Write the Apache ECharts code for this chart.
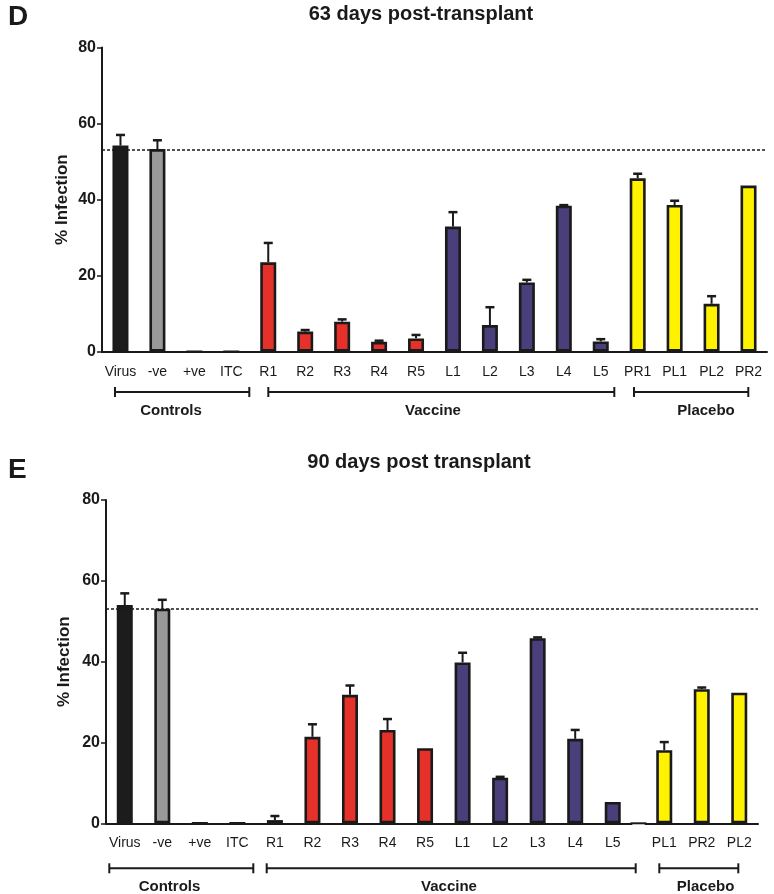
<!DOCTYPE html>
<html><head><meta charset="utf-8">
<script src="https://cdn.jsdelivr.net/npm/echarts@6/dist/echarts.min.js"></script>
<style>html,body{margin:0;padding:0;background:#fff}#c{width:774px;height:894px}</style>
</head><body><div id="c"></div>
<script>
// ---------- DATA ----------
const yTicks = [0, 20, 40, 60, 80];
const refLine = 53;
const groupNames = ['Controls', 'Vaccine', 'Placebo'];

const catsD = ['Virus','-ve','+ve','ITC','R1','R2','R3','R4','R5','L1','L2','L3','L4','L5','PR1','PL1','PL2','PR2'];
const valsD = [54.2, 53.3, 0, 0, 23.5, 5.3, 7.9, 2.6, 3.5, 32.9, 7.0, 18.2, 38.4, 2.7, 45.6, 38.6, 12.6, 43.7];
const errD  = [2.8, 2.3, 0, 0, 5.1, 0.4, 0.6, 0.3, 0.9, 3.8, 4.7, 0.7, 0.15, 0.6, 1.2, 1.1, 2.0, 0];

const catsE1 = ['Virus','-ve','+ve','ITC','R1','R2','R3','R4','R5','L1','L2','L3','L4','L5'];
const valsE1 = [54.0, 53.1, 0, 0, 0.8, 21.4, 31.8, 23.1, 18.6, 39.8, 11.3, 45.8, 20.9, 5.3];
const errE1  = [2.9, 2.2, 0, 0, 1.0, 3.1, 2.3, 2.7, 0, 2.4, 0.2, 0.2, 2.2, 0];
const catsE2 = ['PL1','PR2','PL2'];
const valsE2 = [18.1, 33.2, 32.3];
const errE2  = [2.0, 0.4, 0];

// ---------- STYLE / LAYOUT ----------
const INK = '#1a1a1a';
const FONT = '"Liberation Sans", Arial, sans-serif';
function colorOf(name) {
  if (name === 'Virus') return '#1c1c1c';
  if (name === '-ve' || name === '+ve' || name === 'ITC') return '#999999';
  if (name[0] === 'R') return '#e5312a';
  if (name[0] === 'L') return '#4b3f7b';
  return '#fff200';
}
const gD  = {left: 102, top: 47.5, width: 665, height: 304.2};
const gE1 = {left: 106, top: 500, width: 525.5, height: 323.3};
const gE2 = {left: 645.5, top: 500, width: 112.5, height: 323.3};
const bracketsD = {y: 392, labelY: 411, spans: [[115, 249.3], [268.3, 614.3], [634, 748.3]], labelX: [171, 433, 706]};
const bracketsE = {y: 868.3, labelY: 886.5, spans: [[109.3, 253.3], [266.7, 635.7], [659.3, 738.3]], labelX: [169.5, 449, 705.6]};

function xAxis(cats, gridIndex) {
  return {
    type: 'category', data: cats, gridIndex,
    axisLine: {lineStyle: {color: INK, width: 2}},
    axisTick: {alignWithLabel: true, length: 5, lineStyle: {color: INK, width: 1.5}},
    axisLabel: {color: INK, fontSize: 14, fontFamily: FONT, margin: 13, interval: 0}
  };
}
function yAxis(gridIndex, show, nameGap) {
  return {
    type: 'value', gridIndex, min: yTicks[0], max: yTicks[yTicks.length - 1], interval: yTicks[1] - yTicks[0],
    show,
    name: show ? '% Infection' : '', nameLocation: 'middle', nameGap, nameRotate: 90, nameMoveOverlap: false,
    nameTextStyle: {color: INK, fontSize: 17, fontWeight: 'bold', fontFamily: FONT},
    axisLine: {show: true, lineStyle: {color: INK, width: 2}},
    axisTick: {show: true, length: 5, lineStyle: {color: INK, width: 1.5}},
    axisLabel: {color: INK, fontSize: 16, fontWeight: 'bold', fontFamily: FONT, margin: 6},
    splitLine: {show: false}
  };
}
const dashStyle = {color: '#1a1a1a', width: 1.5, type: [3, 2]};
function barSeries(cats, vals, xi, yi) {
  return {
    type: 'bar', xAxisIndex: xi, yAxisIndex: yi, barWidth: 16,
    data: vals.map((v, i) => ({value: v, itemStyle: {color: colorOf(cats[i])}})),
    itemStyle: {borderColor: INK, borderWidth: 2.6},
    silent: true, z: 3,
    markLine: {silent: true, symbol: 'none', label: {show: false}, lineStyle: dashStyle, data: [{yAxis: refLine}]}
  };
}
function errSeries(cats, vals, errs, xi, yi) {
  return {
    type: 'custom', xAxisIndex: xi, yAxisIndex: yi, silent: true, z: 2,
    data: cats.map((c, i) => [c, vals[i], errs[i]]),
    renderItem: function (params, api) {
      const e = api.value(2);
      if (!e) return null;
      const x = api.value(0), v = api.value(1);
      const p0 = api.coord([x, v]);
      const p1 = api.coord([x, v + e]);
      const st = {stroke: INK, lineWidth: 2};
      return {type: 'group', children: [
        {type: 'line', shape: {x1: p0[0], y1: p0[1], x2: p1[0], y2: p1[1]}, style: st},
        {type: 'line', shape: {x1: p1[0] - 4.5, y1: p1[1], x2: p1[0] + 4.5, y2: p1[1]}, style: {stroke: INK, lineWidth: 2.5}}
      ]};
    }
  };
}
function textG(text, x, y, size, align) {
  return {type: 'text', x, y, silent: true,
    style: {text, font: 'bold ' + size + 'px ' + FONT, fill: INK, align: align || 'center', verticalAlign: 'middle',
            textAlign: align || 'center', textVerticalAlign: 'middle'}};
}
function bracketG(b) {
  const out = [];
  b.spans.forEach((s, i) => {
    const st = {stroke: INK, lineWidth: 2};
    out.push({type: 'line', silent: true, shape: {x1: s[0], y1: b.y, x2: s[1], y2: b.y}, style: st});
    out.push({type: 'line', silent: true, shape: {x1: s[0], y1: b.y - 5, x2: s[0], y2: b.y + 5}, style: st});
    out.push({type: 'line', silent: true, shape: {x1: s[1], y1: b.y - 5, x2: s[1], y2: b.y + 5}, style: st});
    out.push(textG(groupNames[i], b.labelX[i], b.labelY, 15));
  });
  return out;
}

const chart = echarts.init(document.getElementById('c'), null, {renderer: 'canvas'});
chart.setOption({
  backgroundColor: '#ffffff',
  animation: false,
  grid: [gD, gE1, gE2],
  xAxis: [xAxis(catsD, 0), xAxis(catsE1, 1), xAxis(catsE2, 2)],
  yAxis: [yAxis(0, true, 31), yAxis(1, true, 33), yAxis(2, false, 0)],
  series: [
    barSeries(catsD, valsD, 0, 0), errSeries(catsD, valsD, errD, 0, 0),
    barSeries(catsE1, valsE1, 1, 1), errSeries(catsE1, valsE1, errE1, 1, 1),
    barSeries(catsE2, valsE2, 2, 2), errSeries(catsE2, valsE2, errE2, 2, 2)
  ]
});

// gap between the two E grids: continue axis line and reference line
const yAxE = chart.convertToPixel({yAxisIndex: 1}, 0);
const yRefE = chart.convertToPixel({yAxisIndex: 1}, refLine);
const gx1 = gE1.left + gE1.width, gx2 = gE2.left;
chart.setOption({
  graphic: [
    textG('D', 8, 17, 28, 'left'),
    textG('63 days post-transplant', 421, 14, 20),
    textG('E', 8, 470, 28, 'left'),
    textG('90 days post transplant', 419, 462, 20),
    {type: 'line', silent: true, shape: {x1: gx1 - 1, y1: yAxE, x2: gx2 + 1, y2: yAxE}, style: {stroke: INK, lineWidth: 2}},
    {type: 'line', silent: true, shape: {x1: gx1, y1: yRefE, x2: gx2, y2: yRefE}, style: {stroke: '#1a1a1a', lineWidth: 1.5, lineDash: [3, 2]}}
  ].concat(bracketG(bracketsD), bracketG(bracketsE))
});
</script></body></html>
